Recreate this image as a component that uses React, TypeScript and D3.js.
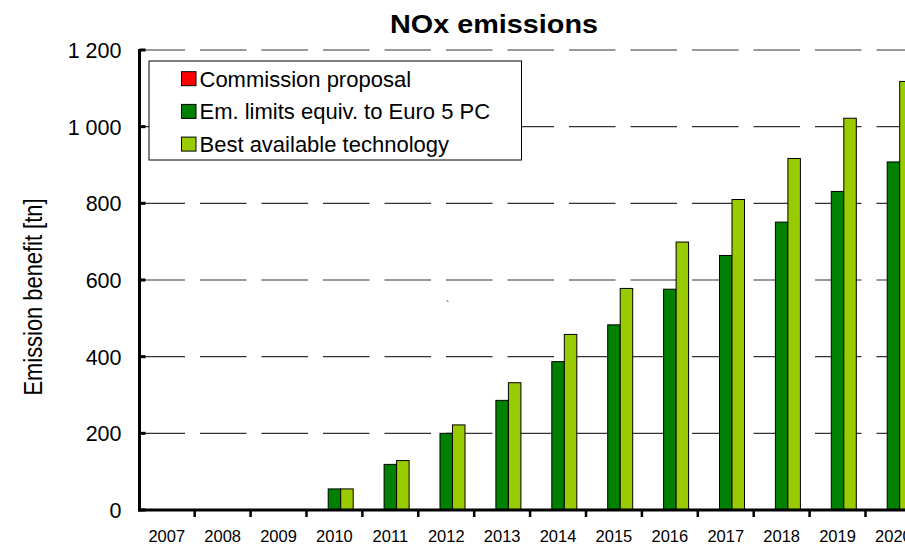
import React from "react";
import * as d3 from "d3";

const years = ["2007","2008","2009","2010","2011","2012","2013","2014","2015","2016","2017","2018","2019","2020"];
const seriesNames = ["Commission proposal", "Em. limits equiv. to Euro 5 PC", "Best available technology"];
const commission = [0,0,0,0,0,0,0,0,0,0,0,0,0,0];
const euro5 = [0,0,0,55,119,200,286,387,483,576,664,751,831,908];
const bat = [0,0,0,55,129,222,332,458,578,699,810,917,1022,1118];
const yTicks = [0,200,400,600,800,1000,1200];
const colors = ["#FF0000", "#008000", "#99CC00"];

const W = 905, H = 544;
const FONT = "'Liberation Sans', Arial, Helvetica, sans-serif";

export default function App() {
  const x = d3.scaleBand<string>().domain(years).range([138.8, 138.8 + 55.9 * years.length]).padding(0);
  const bw = x.bandwidth();
  const groupW = 37.5;
  const xs = d3.scaleBand<number>().domain([0,1,2]).range([(bw - groupW) / 2, (bw + groupW) / 2]).padding(0);
  const y = d3.scaleLinear().domain([0, 1200]).range([510, 50]);
  const data = [commission, euro5, bat];
  const fmt = (v: number) => v >= 1000 ? d3.format(",")(v).replace(",", " ") : String(v);
  const axisX = 139.5;

  return (
    <svg width={W} height={H} style={{ position: "absolute", left: 0, top: 0, background: "#fff" }} fontFamily={FONT}>
      <rect x={0} y={0} width={W} height={H} fill="#fff" />
      {/* gridlines */}
      {yTicks.filter(t => t > 0).map(t => (
        <line key={"g" + t} x1={138.5} x2={W} y1={y(t)} y2={y(t)} stroke="#333" strokeWidth={1.2} strokeDasharray="46.5,15" />
      ))}
      {/* bars */}
      {years.map((yr, i) => (
        <g key={yr} transform={`translate(${x(yr)},0)`}>
          {data.map((s, k) => s[i] > 0 ? (
            <rect key={k} x={xs(k)} y={y(s[i])} width={xs.bandwidth()} height={y(0) - y(s[i])}
              fill={colors[k]} stroke="#000" strokeWidth={1} />
          ) : null)}
        </g>
      ))}
      {/* x axis */}
      <line x1={axisX - 1.5} x2={W} y1={y(0)} y2={y(0)} stroke="#000" strokeWidth={3} />
      {years.slice(1).map(yr => (
        <line key={"xt" + yr} x1={x(yr)} x2={x(yr)} y1={y(0)} y2={y(0) + 7} stroke="#000" strokeWidth={2.5} />
      ))}
      {years.map(yr => (
        <text key={"xl" + yr} x={(x(yr) as number) + bw / 2} y={541.5} fontSize={16.5} textAnchor="middle" fill="#000">{yr}</text>
      ))}
      {/* y axis */}
      <line x1={axisX} x2={axisX} y1={y(1200) - 1} y2={y(0) + 1.5} stroke="#000" strokeWidth={3} />
      {yTicks.map(t => (
        <g key={"yt" + t}>
          <line x1={axisX} x2={axisX + 6} y1={y(t)} y2={y(t)} stroke="#000" strokeWidth={3} />
          <text x={121.5} y={y(t) + 8} fontSize={21.5} textAnchor="end" fill="#000">{fmt(t)}</text>
        </g>
      ))}
      {/* legend */}
      <rect x={149} y={61} width={372.5} height={99} fill="#fff" stroke="#000" strokeWidth={1} />
      {seriesNames.map((n, k) => {
        const cy = 78.7 + k * 32.7;
        return (
          <g key={n}>
            <rect x={181.5} y={cy - 7} width={14.5} height={14} fill={colors[k]} stroke="#000" strokeWidth={1} />
            <text x={199.5} y={cy + 7.8} fontSize={22} fill="#000">{n}</text>
          </g>
        );
      })}
      {/* title */}
      <text x={494} y={33.3} fontSize={26} fontWeight="bold" textAnchor="middle" textLength={208} lengthAdjust="spacingAndGlyphs" fill="#000">NOx emissions</text>
      {/* y label */}
      <text transform="translate(42,297) rotate(-90)" fontSize={25} textAnchor="middle" textLength={197} lengthAdjust="spacingAndGlyphs" fill="#000">Emission benefit [tn]</text>
      <text x={446} y={309} fontSize={10} fill="#000">`</text>
    </svg>
  );
}
